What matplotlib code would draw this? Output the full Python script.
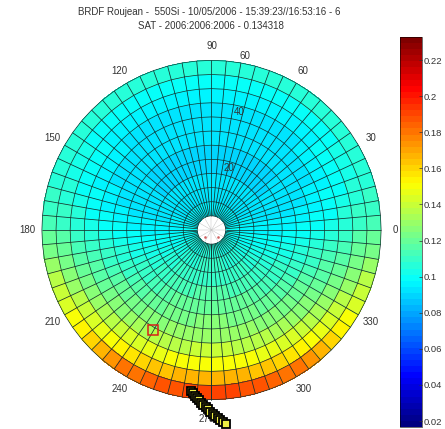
import numpy as np
import matplotlib
matplotlib.use('Agg')
import matplotlib.pyplot as plt
from matplotlib.colors import LinearSegmentedColormap

plt.rcParams['font.family'] = ['Liberation Sans', 'DejaVu Sans']

# reflectance in thousandths, ring by ring from the inside out
# each row goes from azimuth 270 through 0 up to 90, left half is mirrored
ring_1 = [105,105,105,105,105,104,104,104,104,103,103,102,102,101,101,100,99,99,98,98,97,97,97,97,96,96,96,96,96,96,96,96,96,96,96,96]
ring_2 = [108,108,108,108,107,107,107,106,106,105,104,103,102,101,100,99,98,97,96,96,95,95,94,94,94,93,93,93,93,93,93,93,93,93,93,93]
ring_3 = [111,111,111,111,110,110,109,109,108,107,106,105,104,102,101,100,98,97,96,95,94,93,93,92,92,91,91,91,91,91,91,91,91,91,91,91]
ring_4 = [115,115,115,114,114,113,112,112,111,110,108,107,105,104,102,100,99,97,96,95,94,93,92,91,91,90,90,90,90,90,90,90,90,90,90,90]
ring_5 = [120,120,119,119,118,118,117,116,114,113,111,110,108,106,104,102,100,98,97,95,94,93,92,92,91,91,90,90,90,90,90,90,90,90,90,90]
ring_6 = [125,125,124,124,123,122,121,120,118,117,115,113,111,109,107,105,102,100,98,96,95,94,93,93,92,92,91,91,91,91,91,91,91,91,91,91]
ring_7 = [131,131,130,130,129,128,127,125,123,122,120,118,115,113,110,108,106,103,100,98,97,96,95,94,93,93,93,92,92,92,92,92,92,92,92,92]
ring_8 = [139,139,138,137,136,135,134,132,130,128,125,123,120,117,115,112,109,107,103,101,100,98,97,96,96,95,95,94,94,94,94,94,94,94,94,94]
ring_9 = [151,151,150,149,148,146,144,142,139,136,133,130,127,123,120,117,114,110,107,105,103,101,100,99,98,98,97,97,97,97,96,96,96,96,96,96]
ring_10 = [167,167,166,165,163,161,158,155,151,147,143,139,135,131,127,123,119,115,111,109,107,105,104,103,102,101,100,100,100,100,100,100,100,100,100,100]
ring_11 = [189,189,188,187,185,182,179,174,167,161,155,150,145,140,135,129,124,118,112,110,108,107,106,106,105,105,105,105,105,105,106,106,106,107,107,107]
rings = [ring_1, ring_2, ring_3, ring_4, ring_5, ring_6, ring_7, ring_8, ring_9, ring_10, ring_11]

zen_edges = [5, 10, 15, 20, 25, 30, 35, 40, 45, 50, 55, 60]
az_edges = np.arange(-90, 275, 5)

# satellite track and sun point
track_zen = [57.4, 58.1, 58.9, 59.7, 60.4, 61.2, 62.0, 62.7, 63.5, 64.3, 65.0, 65.8, 66.5, 67.3, 68.0, 68.8]
track_az = [262.7, 263.4, 264.2, 265.0, 265.8, 266.5, 267.3, 268.1, 268.8, 269.6, 270.4, 271.2, 271.9, 272.7, 273.5, 274.3]
sun_zen = [41.0]
sun_az = [239.7]

angle_ticks = [0, 30, 60, 90, 120, 150, 180, 210, 240, 270, 300, 330]
zen_ticks = [20, 40, 60]
cbar_ticks = [0.02, 0.04, 0.06, 0.08, 0.1, 0.12, 0.14, 0.16, 0.18, 0.2, 0.22]
cbar_labels = ['0.02', '0.04', '0.06', '0.08', '0.1', '0.12', '0.14', '0.16', '0.18', '0.2', '0.22']

# matlab flavour of jet, cyan and yellow sit a bit apart from matplotlib's
jet_m = LinearSegmentedColormap.from_list('jet_m', [
    (0, (0, 0, 0.5)), (0.125, (0, 0, 1)), (0.375, (0, 1, 1)),
    (0.625, (1, 1, 0)), (0.875, (1, 0, 0)), (1, (0.5, 0, 0))], N=64)


def to_xy(zen, az):
    az = np.radians(az)
    return np.asarray(zen) * np.cos(az), np.asarray(zen) * np.sin(az)


values = np.array([r + r[::-1] for r in rings]) / 1000.0
A, Z = np.meshgrid(az_edges, zen_edges)
X, Y = to_xy(Z, A)

fig = plt.figure(figsize=(4.45, 4.29), dpi=100)
ax = fig.add_axes([0, 0, 1, 1])
scale = 2.827
ax.set_xlim(-211.5 / scale, (445 - 211.5) / scale)
ax.set_ylim(-(429 - 230) / scale, 230 / scale)
ax.axis('off')

mesh = ax.pcolormesh(X, Y, values, cmap=jet_m, vmin=0.0167, vmax=0.2328)

# grid drawn as plain lines, the mesh edges come out too heavy
ax.plot(X, Y, color='#12302e', lw=0.55, solid_capstyle='butt')
ax.plot(X.T, Y.T, color='#12302e', lw=0.5)

# faint spokes in the empty middle
for a in angle_ticks:
    hx, hy = to_xy(np.array([0, 5]), a)
    ax.plot(hx, hy, color='#c4c4c4', lw=0.35)
for a in [225, 315]:
    hx, hy = to_xy(3.4, a)
    ax.plot(hx, hy, 's', color='#d06060', ms=0.8)

for a in angle_ticks:
    if a == 270:
        lx, ly = to_xy(67, 268.5)
    else:
        lx, ly = to_xy(65, a)
    ax.text(lx, ly, str(a), fontsize=7, color='#333333', ha='center', va='center', zorder=2)
for z, r_lab, a_lab in zip(zen_ticks, [22.9, 42.8, 62.6], [74, 77, 79]):
    lx, ly = to_xy(r_lab, a_lab)
    ax.text(lx, ly, str(z), fontsize=7, color='#333333', ha='center', va='center', zorder=3)

tx, ty = to_xy(np.array(track_zen), np.array(track_az))
ax.plot(tx, ty, 's', mfc='#eeee44', mec='black', mew=1.3, ms=5.6, clip_on=False, zorder=4)
sx, sy = to_xy(np.array(sun_zen), np.array(sun_az))
ax.plot(sx, sy, 's', mfc='none', mec='#d8201a', mew=1.1, ms=7, zorder=4)

fig.text(209 / 445, 1 - 12 / 429, 'BRDF Roujean -  550Si - 10/05/2006 - 15:39:23//16:53:16 - 6',
         fontsize=7, color='#333333', ha='center', va='center')
fig.text(211 / 445, 1 - 26 / 429, 'SAT - 2006:2006:2006 - 0.134318',
         fontsize=7, color='#333333', ha='center', va='center')

cax = fig.add_axes([400 / 445, 1 - 427 / 429, 22 / 445, 390 / 429])
cb = fig.colorbar(mesh, cax=cax)
cb.set_ticks(cbar_ticks)
cb.set_ticklabels(cbar_labels)
cb.ax.tick_params(labelsize=6.8, length=2, width=0.5, pad=1.5, colors='#333333', direction='in')
cb.outline.set_linewidth(0.4)

plt.savefig('out.png', dpi=100)
